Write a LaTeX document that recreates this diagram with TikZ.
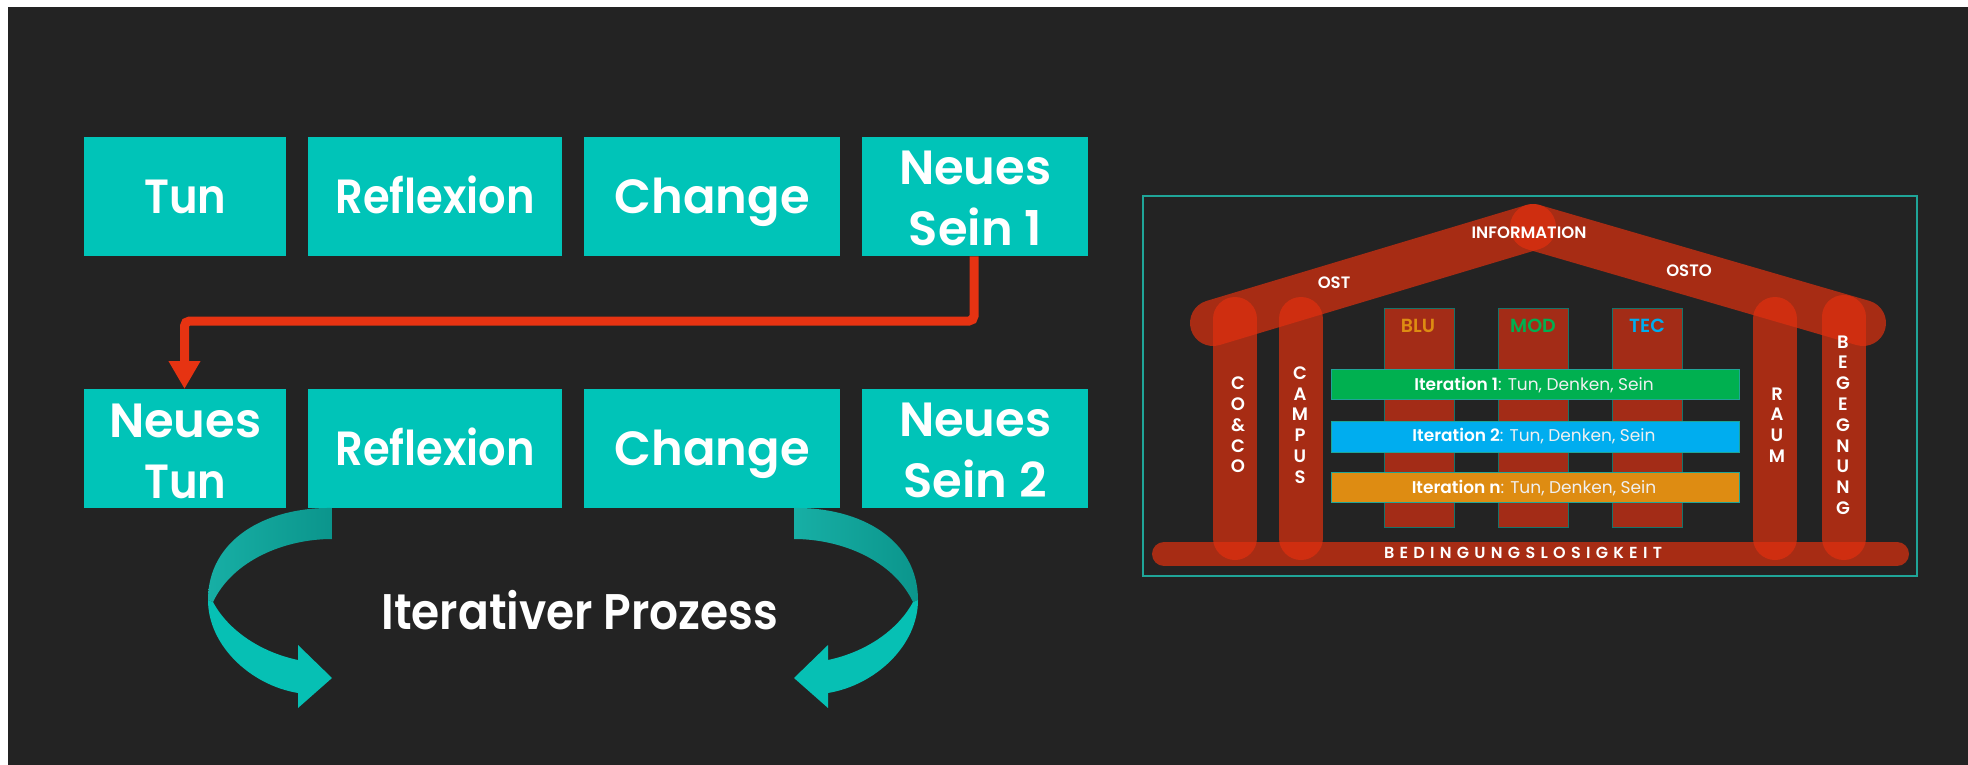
\documentclass[tikz,border=0pt]{standalone}
\usepackage{fontspec}
\setmainfont{Poppins}[BoldFont={Poppins SemiBold}]
\usetikzlibrary{arrows.meta}
\definecolor{bgdark}{HTML}{232323}
\definecolor{teal}{HTML}{00C4B8}
\definecolor{redline}{HTML}{E63312}
\definecolor{ribred}{HTML}{E0300F}
\definecolor{pillarred}{HTML}{A32C17}
\definecolor{frameteal}{HTML}{1FA598}
\definecolor{itgreen}{HTML}{00B050}
\definecolor{itblue}{HTML}{00ADEF}
\definecolor{itorange}{HTML}{DE8C12}
\definecolor{ribbonA}{HTML}{17AFA5}
\definecolor{ribbonB}{HTML}{0B958C}
\definecolor{ribbonC}{HTML}{06C0B4}
\tikzset{
  bluebox/.style={fill=teal,anchor=north west,inner sep=0pt,text=white,align=center,
    minimum height=119pt,font=\fontsize{48}{61}\selectfont\bfseries},
  oneline/.style={text height=46pt,text depth=12pt},
  beam/.style={draw=ribred,draw opacity=.7,line cap=round,line join=round},
  pillar/.style={fill=pillarred,draw=frameteal!70!black,line width=1pt},
  iterbar/.style={draw=frameteal,line width=.8pt},
  housetext/.style={text=white,inner sep=0pt,font=\fontsize{16.5}{16.5}\selectfont\bfseries},
  stack/.style={text=white,inner sep=0pt,align=center,font=\fontsize{18}{20.8}\selectfont\bfseries},
  itertext/.style={text=white!88!gray,inner sep=0pt,font=\fontsize{17}{17}\selectfont},
  pilllabel/.style={inner sep=0pt,font=\fontsize{19}{19}\selectfont\bfseries},
}
\newcommand{\firstline}{\rule{0pt}{38pt}}
\newcommand{\narrow}[1]{\scalebox{.9}[1]{#1}}
\newcommand{\ribbonpair}[1]{%
  \begin{scope}[#1]
    \shade[left color=ribbonA,right color=ribbonB]
      (332,508) .. controls (265,507) and (208,540) .. (208,600)
      -- (213,602) .. controls (233,560) and (285,539) .. (332,539) -- cycle;
    \fill[ribbonC]
      (208,600) .. controls (208,645) and (250,685) .. (298,693)
      -- (298,708) -- (332,678) -- (298,645) -- (298,660)
      .. controls (260,652) and (228,630) .. (213,602) -- cycle;
  \end{scope}}
\begin{document}
\begin{tikzpicture}[x=1pt,y=-1pt]
\useasboundingbox (0,0) rectangle (1968,765);
\fill[white] (0,0) rectangle (1968,765);
\fill[bgdark] (8,7) rectangle (1968,765);
% top row
\node[bluebox,oneline,minimum width=202pt] (a1) at (84,137) {\narrow{Tun}};
\node[bluebox,oneline,minimum width=254pt] (a2) at (308,137) {\narrow{Reflexion}};
\node[bluebox,oneline,minimum width=256pt] (a3) at (584,137) {Change};
\node[bluebox,minimum width=226pt] (a4) at (862,137) {\firstline Neues\\Sein 1};
% bottom row
\node[bluebox,minimum width=202pt] (b1) at (84,389) {\firstline Neues\\\narrow{Tun}};
\node[bluebox,oneline,minimum width=254pt] (b2) at (308,389) {\narrow{Reflexion}};
\node[bluebox,oneline,minimum width=256pt] (b3) at (584,389) {Change};
\node[bluebox,minimum width=226pt] (b4) at (862,389) {\firstline Neues\\Sein 2};
% connector
\coordinate (turnA) at (974,321);
\coordinate (turnB) at (184.5,321);
\draw[redline,line width=9pt,rounded corners=5pt,-{Triangle[length=28pt,width=30pt]}]
  (a4.south -| turnA) -- (turnA) -- (turnB) -- (b1.north -| turnB);
% ribbons
\ribbonpair{}
\ribbonpair{xshift=1126pt,xscale=-1}
\node[text=white,inner sep=0pt,font=\fontsize{50}{50}\selectfont\bfseries] (proc) at (580,610) {\scalebox{.91}[1]{Iterativer Prozess}};
% house
\draw[frameteal,line width=1.6pt] (1143,196) rectangle (1917,576);
\foreach \nm/\x in {p1/1384,p2/1498,p3/1612}{
  \draw[pillar] (\x,308) rectangle ++(70,219);
}
\draw[beam,line width=46pt] (1213,323) -- (1533,227);
\draw[beam,line width=46pt] (1533,227) -- (1863,323);
\draw[beam,line width=44pt] (1235,319) -- (1235,538);
\draw[beam,line width=44pt] (1301,319) -- (1301,538);
\draw[beam,line width=44pt] (1775,319) -- (1775,538);
\draw[beam,line width=44pt] (1843.5,317) -- (1843.5,538);
\draw[beam,line width=24pt] (1164,554) -- (1897,554);
\draw[iterbar,fill=itgreen] (1331,369) rectangle (1739,399);
\draw[iterbar,fill=itblue] (1331,421) rectangle (1739,452);
\draw[iterbar,fill=itorange] (1331,472) rectangle (1739,502);
\node[itertext] (i1) at (1534,385) {\textbf{\textcolor{white}{Iteration 1}}: Tun, Denken, Sein};
\node[itertext] (i2) at (1534,436) {\textbf{\textcolor{white}{Iteration 2}}: Tun, Denken, Sein};
\node[itertext] (i3) at (1534,488) {\textbf{\textcolor{white}{Iteration n}}: Tun, Denken, Sein};
\node[pilllabel,text=itorange] (blu) at (1418,326) {BLU};
\node[pilllabel,text=itgreen] (mod) at (1533,326) {MOD};
\node[pilllabel,text=itblue] (tec) at (1647,326) {TEC};
\node[housetext] (info) at (1529,233) {INFORMATION};
\node[housetext] (ost) at (1334,283) {OST};
\node[housetext] (osto) at (1689,271) {OSTO};
\node[stack] (s1) at (1238,425) {C\\O\\\&\\C\\O};
\node[stack] (s2) at (1300,425) {C\\A\\M\\P\\U\\S};
\node[stack] (s3) at (1777,425) {R\\A\\U\\M};
\node[stack] (s4) at (1843,425) {B\\E\\G\\E\\G\\N\\U\\N\\G};
\node[text=white,inner sep=0pt,font=\fontsize{16}{16}\selectfont\bfseries\addfontfeature{LetterSpace=33}] (bed) at (1523,553) {BEDINGUNGSLOSIGKEIT};
\end{tikzpicture}
\end{document}
